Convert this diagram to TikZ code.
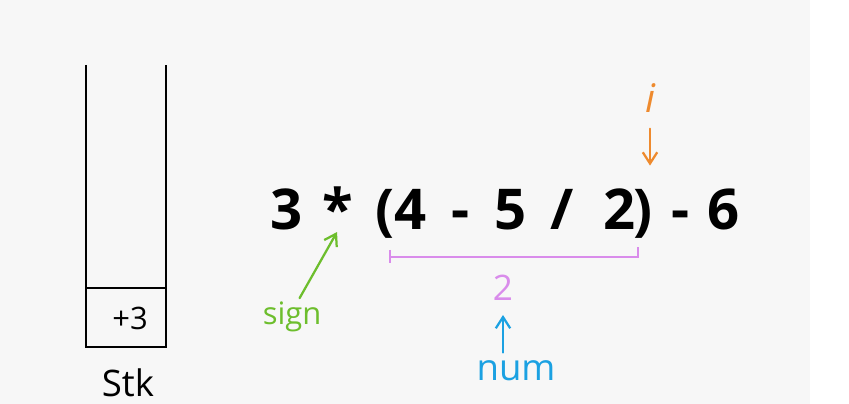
\documentclass[tikz,border=0pt]{standalone}
\usepackage{fontspec}
\setmainfont{Open Sans}
\usetikzlibrary{arrows.meta,positioning}
\definecolor{paper}{HTML}{F7F7F7}
\definecolor{signgreen}{HTML}{6DBE2D}
\definecolor{spanpurple}{HTML}{D98CEB}
\definecolor{numblue}{HTML}{1BA1E2}
\definecolor{idxorange}{HTML}{EE8A2E}

\begin{document}
\begin{tikzpicture}[
    x=0.25mm, y=-0.25mm,
    >={Straight Barb[length=2.8mm,width=3.6mm]},
    tok/.style={anchor=base, inner sep=0pt, font=\fontsize{40}{48}\selectfont\bfseries},
    hand/.style={inner sep=0pt, font=\fontsize{22}{26}\selectfont},
    wall/.style={line width=0.9pt},
    pointer/.style={->, line width=1.6pt, line cap=round},
  ]
    \useasboundingbox (0,0) rectangle (849,404);
    \fill[paper] (0,0) rectangle (810,404);

    % --- the stack ---
    \draw[wall] (86,65) -- (86,347) -- (166,347) -- (166,65);
    \draw[wall] (86,288) -- (166,288);
    \node[hand] (top) at (130,318) {+3};
    \node[hand, font=\fontsize{26}{30}\selectfont] (stk) at (128,383) {Stk};

    % --- the expression ---
    \foreach \t/\x/\n in {3/287/n3, {*}/338/star, {(}/385/lpar, 4/411/n4, {-}/461/minA,
                          5/511/n5, {/}/562/slash, 2/620/n2, {)}/643/rpar, {-}/681/minB, 6/724/n6}
      \node[tok] (\n) at (\x,230) {\t};

    % sign
    \node[hand, text=signgreen] (sign) at (292,317) {sign};
    \draw[pointer, signgreen, shorten <=1mm, shorten >=0.5mm] (sign.70) -- (star.south);

    % bracketed sub-expression and its value
    \draw[spanpurple, line width=1.5pt] (390,250) -- (390,263)
      (390,257) -- (638,257) -- (638,247);
    \node[hand, text=spanpurple, font=\fontsize{25}{30}\selectfont] (two) at (503,288) {2};

    % num
    \node[hand, text=numblue, font=\fontsize{26}{30}\selectfont] (num) at (516,371) {num};
    \draw[pointer, numblue, shorten <=2mm, shorten >=3.5mm] (num.north -| two.south) -- (two.south);

    % i
    \node[hand, text=idxorange, font=\fontsize{28}{32}\selectfont\itshape] (i) at (650,98) {i};
    \draw[pointer, idxorange, shorten <=4mm, shorten >=6mm] (i.south) -- (i.south |- rpar.north);
  \end{tikzpicture}
\end{document}
